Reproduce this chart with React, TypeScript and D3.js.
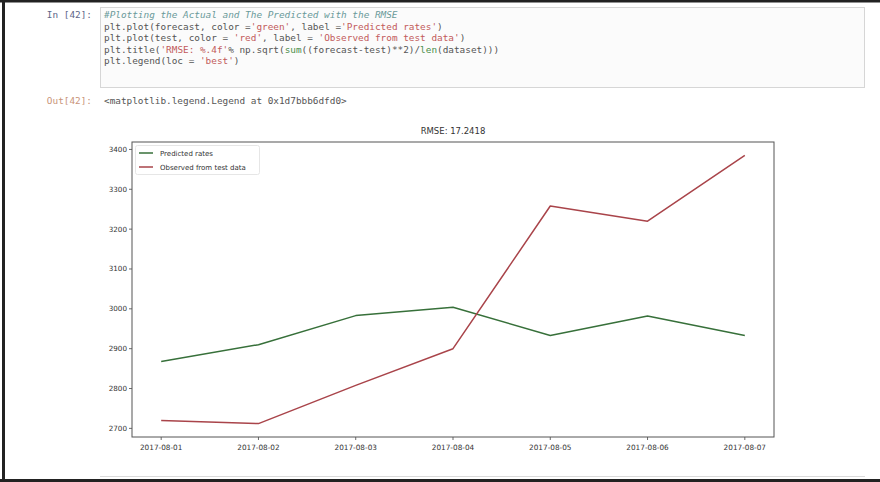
import React from 'react';
import * as d3 from 'd3';

// data
const dates = ['2017-08-01', '2017-08-02', '2017-08-03', '2017-08-04', '2017-08-05', '2017-08-06', '2017-08-07'];
const predicted = [2868, 2910, 2983, 3004, 2933, 2982, 2933];
const observed = [2720, 2712, 2808, 2900, 3258, 3220, 3385];
const yTicks = [2700, 2800, 2900, 3000, 3100, 3200, 3300, 3400];
const legendLabels = ['Predicted rates', 'Observed from test data'];
const title = 'RMSE: 17.2418';

// code cell, as [text, kind] pieces per line
const codeLines: [string, string][][] = [
  [['#Plotting the Actual and The Predicted with the RMSE', 'comment']],
  [['plt.plot(forecast, color =', 'txt'], ["'green'", 'str'], [', label =', 'txt'], ["'Predicted rates'", 'str'], [')', 'txt']],
  [['plt.plot(test, color = ', 'txt'], ["'red'", 'str'], [', label = ', 'txt'], ["'Observed from test data'", 'str'], [')', 'txt']],
  [['plt.title(', 'txt'], ["'RMSE: %.4f'", 'str'], ['% np.sqrt(', 'txt'], ['sum', 'fn'], ['((forecast-test)**2)/', 'txt'], ['len', 'fn'], ['(dataset)))', 'txt']],
  [['plt.legend(loc = ', 'txt'], ["'best'", 'str'], [')', 'txt']],
];
const outText = '<matplotlib.legend.Legend at 0x1d7bbb6dfd0>';

const codeColor: Record<string, string> = {
  txt: '#555',
  str: '#c25a5a',
  comment: '#6a9a9a',
  fn: '#4a8e4a',
};

const W = 880;
const H = 482;
const plot = { left: 132, right: 774, top: 142, bottom: 437 };
const green = '#37703a';
const red = '#a9444a';

const App: React.FC = () => {
  const all = [...predicted, ...observed];
  const lo = d3.min(all) as number;
  const hi = d3.max(all) as number;
  const pad = (hi - lo) * 0.05;

  const x = d3.scaleLinear().domain([-0.3, dates.length - 1 + 0.3]).range([plot.left, plot.right]);
  const y = d3.scaleLinear().domain([lo - pad, hi + pad]).range([plot.bottom, plot.top]);

  const line = d3.line<number>().x((_, i) => x(i)).y(d => y(d));

  const mono = '"DejaVu Sans Mono", monospace';
  const sans = '"DejaVu Sans", sans-serif';

  return (
    <div style={{ position: 'fixed', left: 0, top: 0, width: W, height: H, background: '#fff' }}>
      <svg width={W} height={H} style={{ display: 'block' }}>
        <rect x={0} y={0} width={W} height={H} fill="#fff" />

        {/* notebook frame */}
        <rect x={0} y={0} width={W} height={2.5} fill="#222" />
        <rect x={2} y={0} width={3} height={H} fill="#222" />
        <rect x={0} y={479} width={W} height={3} fill="#222" />

        {/* input cell */}
        <rect x={100.5} y={7.5} width={764} height={80} fill="#fbfbfb" stroke="#d6d6d6" />
        <text x={92} y={18} textAnchor="end" fontFamily={mono} fontSize={9.4} fill="#5e6688">In [42]:</text>
        {codeLines.map((pieces, i) => (
          <text key={i} x={104} y={18 + i * 11.5} fontFamily={mono} fontSize={9.4} style={{ whiteSpace: 'pre' }}>
            {pieces.map(([t, k], j) => (
              <tspan key={j} fill={codeColor[k]} fontStyle={k === 'comment' ? 'italic' : 'normal'}>{t}</tspan>
            ))}
          </text>
        ))}

        {/* output prompt */}
        <text x={92} y={104} textAnchor="end" fontFamily={mono} fontSize={9.4} fill="#c99479">Out[42]:</text>
        <text x={104} y={104} fontFamily={mono} fontSize={9.4} fill="#555">{outText}</text>

        {/* next cell edge */}
        <line x1={100} x2={865} y1={476.5} y2={476.5} stroke="#dadada" />

        {/* title */}
        <text x={(plot.left + plot.right) / 2} y={134} textAnchor="middle" fontFamily={sans} fontSize={8.5} fill="#333">{title}</text>

        {/* y axis ticks */}
        {yTicks.map(t => (
          <g key={t}>
            <line x1={plot.left - 3} x2={plot.left} y1={y(t)} y2={y(t)} stroke="#444" strokeWidth={0.8} />
            <text x={plot.left - 5} y={y(t) + 2.5} textAnchor="end" fontFamily={sans} fontSize={7.2} fill="#333">{t}</text>
          </g>
        ))}

        {/* x axis ticks */}
        {dates.map((d, i) => (
          <g key={d}>
            <line x1={x(i)} x2={x(i)} y1={plot.bottom} y2={plot.bottom + 3} stroke="#444" strokeWidth={0.8} />
            <text x={x(i)} y={plot.bottom + 12.5} textAnchor="middle" fontFamily={sans} fontSize={7.3} fill="#333">{d}</text>
          </g>
        ))}

        {/* series */}
        <path d={line(predicted) || ''} fill="none" stroke={green} strokeWidth={1.5} strokeLinejoin="round" />
        <path d={line(observed) || ''} fill="none" stroke={red} strokeWidth={1.5} strokeLinejoin="round" />

        {/* spines */}
        <rect x={plot.left} y={plot.top} width={plot.right - plot.left} height={plot.bottom - plot.top} fill="none" stroke="#555" strokeWidth={1} />

        {/* legend */}
        <rect x={135.5} y={145.5} width={124} height={29} rx={2} fill="#fff" fillOpacity={0.8} stroke="#e6e6e6" />
        {legendLabels.map((l, i) => (
          <g key={l}>
            <line x1={139} x2={153} y1={153 + i * 14} y2={153 + i * 14} stroke={i === 0 ? green : red} strokeWidth={1.5} />
            <text x={160} y={155.5 + i * 14} fontFamily={sans} fontSize={7} fill="#333">{l}</text>
          </g>
        ))}
      </svg>
    </div>
  );
};

export default App;
